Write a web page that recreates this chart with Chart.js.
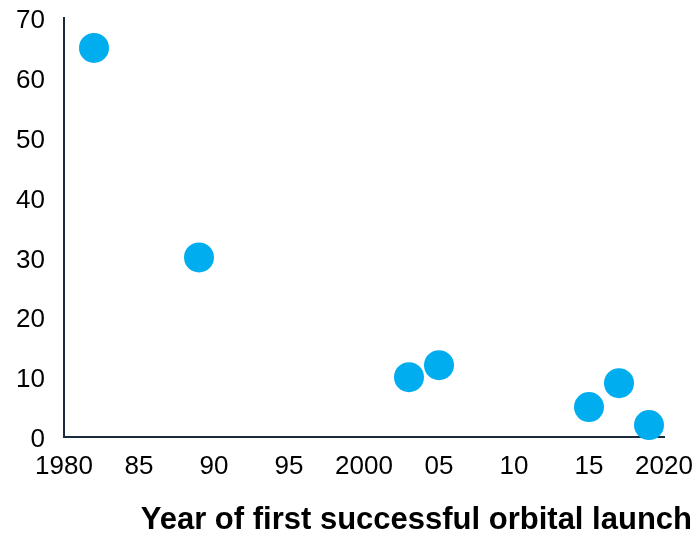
<!DOCTYPE html>
<html>
<head>
<meta charset="utf-8">
<script src="https://cdn.jsdelivr.net/npm/chart.js@4"></script>
<style>
html,body{margin:0;padding:0;background:#fff;}
#wrap{width:695px;height:536px;}
</style>
</head>
<body>
<div id="wrap"><canvas id="c" width="695" height="536"></canvas></div>
<script>
const launchYears = [1982, 1989, 2003, 2005, 2015, 2017, 2019];
const values = [65, 30, 10, 12, 5, 9, 2];
const xTickLabels = ['1980', '85', '90', '95', '2000', '05', '10', '15', '2020'];
const yTickLabels = ['0', '10', '20', '30', '40', '50', '60', '70'];
const xTitle = 'Year of first successful orbital launch';

const FONT = 'Arial, "Liberation Sans", sans-serif';
const AXIS = '#1b2a3a';

new Chart(document.getElementById('c'), {
  type: 'scatter',
  data: {
    datasets: [{
      data: launchYears.map((y, i) => ({x: y, y: values[i]})),
      backgroundColor: '#00AEEF',
      borderWidth: 0,
      pointRadius: 15,
      pointHoverRadius: 15,
      clip: false
    }]
  },
  options: {
    responsive: false,
    animation: false,
    events: [],
    layout: {padding: {left: 0, right: 3, top: 18, bottom: 0}},
    plugins: {
      legend: {display: false},
      tooltip: {enabled: false},
      title: {
        display: true,
        text: xTitle,
        position: 'bottom',
        align: 'end',
        color: '#000',
        font: {family: FONT, size: 31, weight: 'bold', lineHeight: 1.0},
        padding: {top: 0, bottom: 0}
      }
    },
    scales: {
      x: {
        type: 'linear',
        min: 1980, max: 2020,
        grid: {display: false, drawTicks: false},
        border: {display: true, color: AXIS, width: 2},
        ticks: {
          stepSize: 5,
          autoSkip: false,
          maxRotation: 0,
          padding: 14,
          color: '#000',
          font: {family: FONT, size: 26},
          callback: (v, i) => xTickLabels[i]
        },
        afterFit: s => { s.height = 68; s.paddingRight = 31; }
      },
      y: {
        type: 'linear',
        min: 0, max: 70,
        grid: {display: false, drawTicks: false},
        border: {display: true, color: AXIS, width: 2},
        ticks: {
          stepSize: 10,
          padding: 19,
          labelOffset: 3,
          color: '#000',
          font: {family: FONT, size: 26},
          callback: (v, i) => yTickLabels[i]
        },
        afterFit: s => { s.width = 64; s.paddingTop = 0; s.paddingBottom = 0; }
      }
    }
  }
});
</script>
</body>
</html>
